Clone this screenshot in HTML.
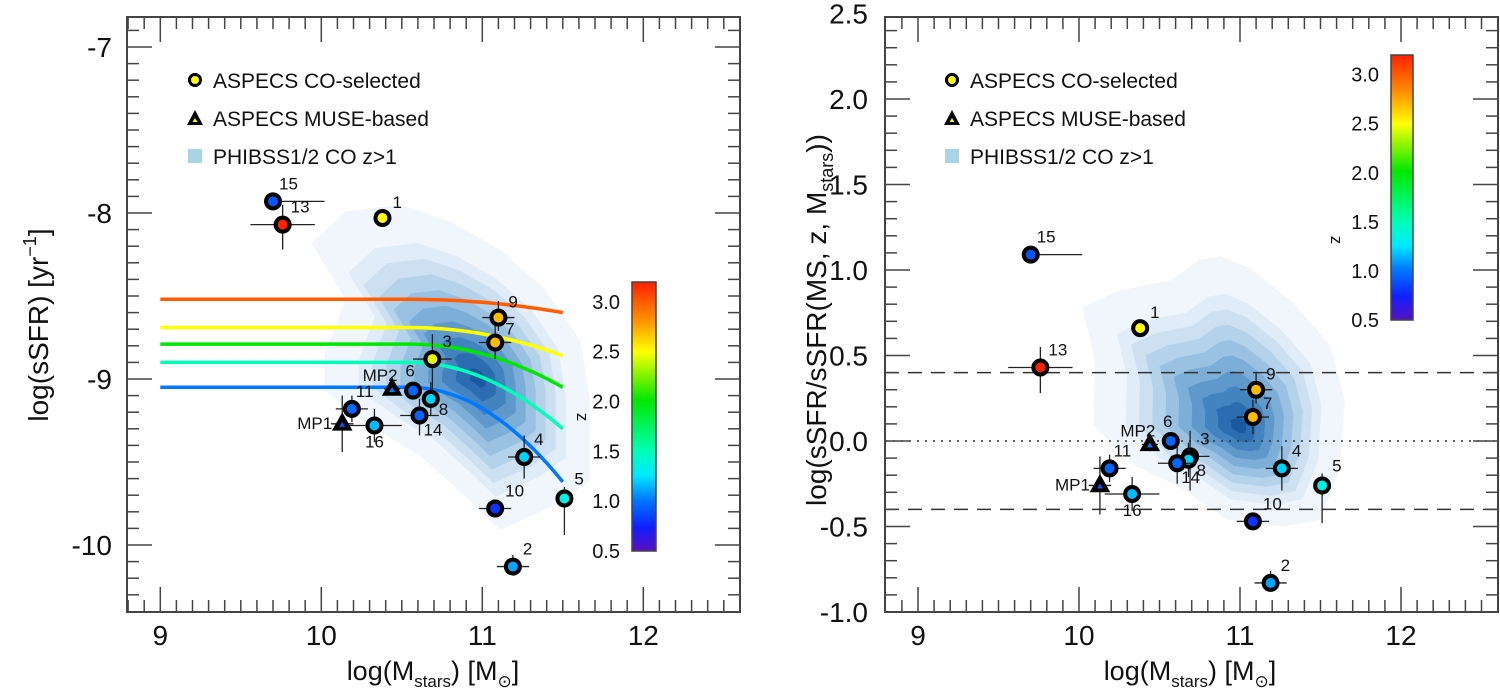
<!DOCTYPE html>
<html><head><meta charset="utf-8"><style>
html,body{margin:0;padding:0;background:#fff;}
svg{display:block;font-family:"Liberation Sans",sans-serif;}
</style></head><body>
<svg id="chart" width="1500" height="692" viewBox="0 0 1500 692" xmlns="http://www.w3.org/2000/svg">
<defs>
<linearGradient id="jet" x1="0" y1="1" x2="0" y2="0">
<stop offset="0" stop-color="#5a10c0"/><stop offset="0.09" stop-color="#1020ff"/><stop offset="0.19" stop-color="#0078ff"/><stop offset="0.28" stop-color="#00e8ff"/><stop offset="0.37" stop-color="#00ffb8"/><stop offset="0.56" stop-color="#00e800"/><stop offset="0.74" stop-color="#ffff00"/><stop offset="0.85" stop-color="#ff9900"/><stop offset="1" stop-color="#ff2000"/>
</linearGradient>
</defs>
</svg>
<script>
// ---------- data ----------
const ids = ["1","9","7","3","6","8","MP2","11","14","16","MP1","4","5","10","2","15","13"];
const mass = [10.38,11.10,11.08,10.69,10.57,10.68,10.44,10.19,10.61,10.33,10.13,11.26,11.51,11.08,11.19,9.70,9.76];
const ssfr = [-8.03,-8.63,-8.78,-8.88,-9.07,-9.12,-9.06,-9.18,-9.22,-9.28,-9.27,-9.47,-9.72,-9.78,-10.13,-7.93,-8.07];
const dms = [0.66,0.30,0.14,-0.09,0.00,-0.11,-0.02,-0.16,-0.13,-0.31,-0.26,-0.16,-0.26,-0.47,-0.83,1.09,0.43];
const redshift = [2.5,2.7,2.7,2.45,0.95,1.2,1.0,0.95,0.95,1.15,0.9,1.2,1.35,0.8,1.1,0.9,3.2];
const xlo = [0.03,0.1,0.1,0.12,0.05,0.05,0.05,0.1,0.12,0.17,0.07,0.1,0.05,0.1,0.1,0.05,0.2];
const xhi = [0.03,0.1,0.1,0.12,0.05,0.05,0.05,0.1,0.12,0.17,0.07,0.1,0.05,0.1,0.1,0.32,0.2];
const ylo = [0.03,0.08,0.1,0.2,0.05,0.1,0.04,0.08,0.12,0.1,0.17,0.13,0.22,0.05,0.03,0.05,0.15];
const yhi = [0.03,0.1,0.1,0.15,0.05,0.1,0.04,0.08,0.1,0.1,0.17,0.13,0.07,0.03,0.07,0.05,0.12];
const msZ = [3.0,2.5,2.0,1.5,1.0];
const msS0 = [-8.52,-8.69,-8.79,-8.90,-9.05];
const msDrop = [0.08,0.17,0.26,0.40,0.57];
const xTicks = [9,10,11,12];
const yTicksL = [-7,-8,-9,-10];
const yTicksR = [2.5,2.0,1.5,1.0,0.5,0.0,-0.5,-1.0];
const cbTicks = [0.5,1.0,1.5,2.0,2.5,3.0];
const contourOuterL = [[9.94,-8.18],[10.15,-7.99],[10.49,-7.95],[10.80,-8.05],[11.11,-8.22],[11.39,-8.46],[11.61,-8.77],[11.67,-9.13],[11.67,-9.61],[11.45,-9.76],[11.11,-9.91],[10.92,-9.73],[10.61,-9.46],[10.30,-9.28],[10.02,-9.07],[10.02,-8.86],[10.15,-8.52]];
const contourCoreL = [10.98,-9.0];
const contourOuterR = [[10.02,0.78],[10.25,0.88],[10.57,0.94],[10.75,1.06],[10.88,1.08],[11.06,1.01],[11.33,0.81],[11.56,0.56],[11.65,0.24],[11.62,-0.17],[11.50,-0.46],[11.27,-0.50],[10.92,-0.46],[10.63,-0.27],[10.36,-0.15],[10.09,0.09],[10.10,0.47]];
const contourCoreR = [11.0,0.08];
const levelColors = ["#f0f6fc","#e0ecf8","#cde0f2","#b5d2eb","#9ac1e2","#7daed7","#5f99cc","#4283c0","#2c6db1","#1b58a0"];
const labelOff = {"1":[10,-10,"start"],"9":[10,-10,"start"],"7":[10,-8,"start"],"3":[10,-12,"start"],"6":[-3,-14,"middle"],"8":[8,16,"start"],"MP2":[-12,-8,"middle"],"11":[4,-12,"start"],"14":[4,20,"start"],"16":[0,22,"middle"],"MP1":[-10,5,"end"],"4":[10,-12,"start"],"5":[10,-14,"start"],"10":[10,-12,"start"],"2":[10,-12,"start"],"15":[6,-12,"start"],"13":[8,-12,"start"]};

// ---------- helpers ----------
const NS="http://www.w3.org/2000/svg";
const svg=document.getElementById('chart');
function mk(tag,attrs,parent){const e=document.createElementNS(NS,tag);for(const k in attrs)e.setAttribute(k,attrs[k]);(parent||svg).appendChild(e);return e;}
const stops=[[0.5,[90,16,192]],[0.75,[16,32,255]],[1.0,[0,120,255]],[1.25,[0,232,255]],[1.5,[0,255,184]],[2.0,[0,232,0]],[2.5,[255,255,0]],[2.8,[255,153,0]],[3.2,[255,32,0]]];
function zcol(z){z=Math.max(0.5,Math.min(3.2,z));for(let i=0;i<stops.length-1;i++){const a=stops[i],b=stops[i+1];if(z<=b[0]){const t=(z-a[0])/(b[0]-a[0]);const c=a[1].map((v,j)=>Math.round(v+(b[1][j]-v)*t));return `rgb(${c})`;}}return 'rgb(255,32,0)';}

const L={x0:127,x1:740,top:17,bot:612,X:m=>160.3+(m-9)*161,Y:s=>47+(-7-s)*166};
const R={x0:885,x1:1498,top:17,bot:612,X:m=>918+(m-9)*161,Y:v=>441-v*171};

function frame(P,name,yMajor,yLabels,yMin,yMax,yMinorStep,fmt,labX){
  const g=mk('g',{});
  
  
  mk('rect',{x:P.x0,y:P.top,width:P.x1-P.x0,height:P.bot-P.top,fill:'none',stroke:'#444','stroke-width':2},g);
  for(let m=8.8;m<=12.61;m+=0.1){const mm=Math.round(m*10)/10;const x=P.X(mm);if(x<P.x0+1||x>P.x1-1)continue;const maj=Math.abs(mm-Math.round(mm))<1e-6;const len=maj?25:12;
    mk('line',{x1:x,x2:x,y1:P.bot,y2:P.bot-len,stroke:'#444','stroke-width':1.5},g);
    mk('line',{x1:x,x2:x,y1:P.top,y2:P.top+len,stroke:'#444','stroke-width':1.5},g);}
  for(let k=Math.round(yMin*10);k<=Math.round(yMax*10);k+=Math.round(yMinorStep*10)){const v=k/10;const y=P.Y(v);if(y<P.top+1||y>P.bot-1)continue;const maj=yMajor.some(t=>Math.abs(t-v)<1e-6);const len=maj?25:12;
    mk('line',{x1:P.x0,x2:P.x0+len,y1:y,y2:y,stroke:'#444','stroke-width':1.5},g);
    mk('line',{x1:P.x1,x2:P.x1-len,y1:y,y2:y,stroke:'#444','stroke-width':1.5},g);}
  xTicks.forEach(t=>{const e=mk('text',{x:P.X(t),y:645,'font-size':28,'text-anchor':'middle',fill:'#111'},g);e.textContent=t;
    
    });
  yLabels.forEach(t=>{const e=mk('text',{x:labX,y:P.Y(t)+10,'font-size':28,'text-anchor':'end',fill:'#111'},g);e.textContent=fmt(t);
    
    });
}

function contours(P,outer,core,name){
  const g=mk('g',{});
  
  
  const n=levelColors.length;
  for(let i=0;i<n;i++){const t=i===0?0:0.22+0.72*(i-1)/(n-2);
    const pts=outer.map(([m,v])=>{const mm=m+(core[0]-m)*t, vv=v+(core[1]-v)*t;return P.X(mm).toFixed(1)+','+P.Y(vv).toFixed(1);}).join(' ');
    const p=mk('polygon',{points:pts,fill:levelColors[i],stroke:'none'},g);
    
    }
}

function points(P,yvals,name){
  const g=mk('g',{});
  
  
  ids.forEach((id,i)=>{const x=P.X(mass[i]),y=P.Y(yvals[i]);
    mk('line',{x1:P.X(mass[i]-xlo[i]),x2:P.X(mass[i]+xhi[i]),y1:y,y2:y,stroke:'#222','stroke-width':1.3},g);
    mk('line',{x1:x,x2:x,y1:P.Y(yvals[i]-ylo[i]),y2:P.Y(yvals[i]+yhi[i]),stroke:'#222','stroke-width':1.3},g);
    let m;
    if(id.startsWith('MP')){m=mk('polygon',{points:`${x},${y-10} ${x-9},${y+6} ${x+9},${y+6}`,fill:'#000',stroke:'#000','stroke-width':1.5},g);
      mk('polygon',{points:`${x},${y-2} ${x-3},${y+3} ${x+3},${y+3}`,fill:zcol(redshift[i])},g);}
    else{m=mk('circle',{cx:x,cy:y,r:7,fill:zcol(redshift[i]),stroke:'#000','stroke-width':4},g);}
    
    
    const o=labelOff[id];
    const t=mk('text',{x:x+o[0],y:y+o[1],'font-size':17,'text-anchor':o[2],fill:'#111'},g);t.textContent=id;
    
    
  });
}

function legend(x,y,name){
  const g=mk('g',{});
  
  
  mk('circle',{cx:x,cy:y,r:5.5,fill:'#ffff00',stroke:'#000','stroke-width':3},g);
  let t=mk('text',{x:x+18,y:y+8,'font-size':21,fill:'#111'},g);t.textContent='ASPECS CO-selected';
  
  
  mk('polygon',{points:`${x},${y+30} ${x-8},${y+45} ${x+8},${y+45}`,fill:'#000'},g);
  mk('polygon',{points:`${x},${y+38} ${x-2.5},${y+42} ${x+2.5},${y+42}`,fill:'#ffff00'},g);
  t=mk('text',{x:x+18,y:y+46,'font-size':21,fill:'#111'},g);t.textContent='ASPECS MUSE-based';
  
  
  mk('rect',{x:x-7,y:y+69,width:14,height:14,fill:'#a8d4e6'},g);
  t=mk('text',{x:x+18,y:y+84,'font-size':21,fill:'#111'},g);t.textContent='PHIBSS1/2 CO z>1';
  
  
}

function colorbar(x,y0,y1,w,name,zx,zy){
  const g=mk('g',{});
  
  
  mk('rect',{x:x,y:y0,width:w,height:y1-y0,fill:'url(#jet)',stroke:'#444','stroke-width':1.5},g);
  const Z=z=>y1-(z-0.5)/(3.2-0.5)*(y1-y0);
  cbTicks.forEach(z=>{const t=mk('text',{x:x-12,y:Z(z)+7,'font-size':20,'text-anchor':'end',fill:'#111'},g);t.textContent=z.toFixed(1);
    
    });
  const zt=mk('text',{x:zx,y:zy,'font-size':17,'text-anchor':'middle',fill:'#111',transform:`rotate(90 ${zx} ${zy})`},g);zt.textContent='z';
  
  
}

function xlabel(cx,name){
  const t=mk('text',{x:cx,y:680,'font-size':27,'text-anchor':'middle',fill:'#111'});
  
  
  t.innerHTML='log(M<tspan font-size="17" dy="7">stars</tspan><tspan dy="-7">) [M</tspan><tspan font-size="17" dy="7">⊙</tspan><tspan dy="-7">]</tspan>';
}

// ---------- left panel ----------
contours(L,contourOuterL,contourCoreL,'phibss-density-left');
frame(L,'left',yTicksL,yTicksL,-10.4,-6.8,0.1,v=>String(v),112);
const msg=mk('g',{});


msZ.forEach((z,i)=>{let d='';for(let m=9;m<=11.5001;m+=0.05){const s=msS0[i]-msDrop[i]*Math.pow(Math.max(0,m-10.55)/0.95,2);d+=(d?'L':'M')+L.X(m).toFixed(1)+','+L.Y(s).toFixed(1);}
  const p=mk('path',{d:d,fill:'none',stroke:zcol(z),'stroke-width':3.5},msg);
  
  });
points(L,ssfr,'galaxies-left');
legend(195,80,'legend-left');
colorbar(632,282,551,24,'colorbar-left',577,417);
xlabel(433,'x-axis-title-left');
const yl=mk('text',{x:0,y:0,'font-size':28,'text-anchor':'middle',fill:'#111',transform:'translate(48,325) rotate(-90)'});


yl.innerHTML='log(sSFR) [yr<tspan font-size="18" dy="-12">−1</tspan><tspan dy="12">]</tspan>';

// ---------- right panel ----------
contours(R,contourOuterR,contourCoreR,'phibss-density-right');
const rl=mk('g',{});


[0.4,-0.4].forEach(v=>mk('line',{x1:R.x0,x2:R.x1,y1:R.Y(v),y2:R.Y(v),stroke:'#333','stroke-width':1.5,'stroke-dasharray':'14,9'},rl));
mk('line',{x1:R.x0,x2:R.x1,y1:R.Y(0),y2:R.Y(0),stroke:'#333','stroke-width':1.5,'stroke-dasharray':'2,6'},rl);
frame(R,'right',yTicksR,yTicksR,-1.0,2.5,0.1,v=>v.toFixed(1),868);
points(R,dms,'galaxies-right');
legend(952,80,'legend-right');
colorbar(1391,55,320,22,'colorbar-right',1331,240);
xlabel(1190,'x-axis-title-right');
const yr=mk('text',{x:0,y:0,'font-size':28,'text-anchor':'middle',fill:'#111',transform:'translate(826,320) rotate(-90)'});


yr.innerHTML='log(sSFR/sSFR(MS, z, M<tspan font-size="18" dy="7">stars</tspan><tspan dy="-7">))</tspan>';
</script>
</body></html>
